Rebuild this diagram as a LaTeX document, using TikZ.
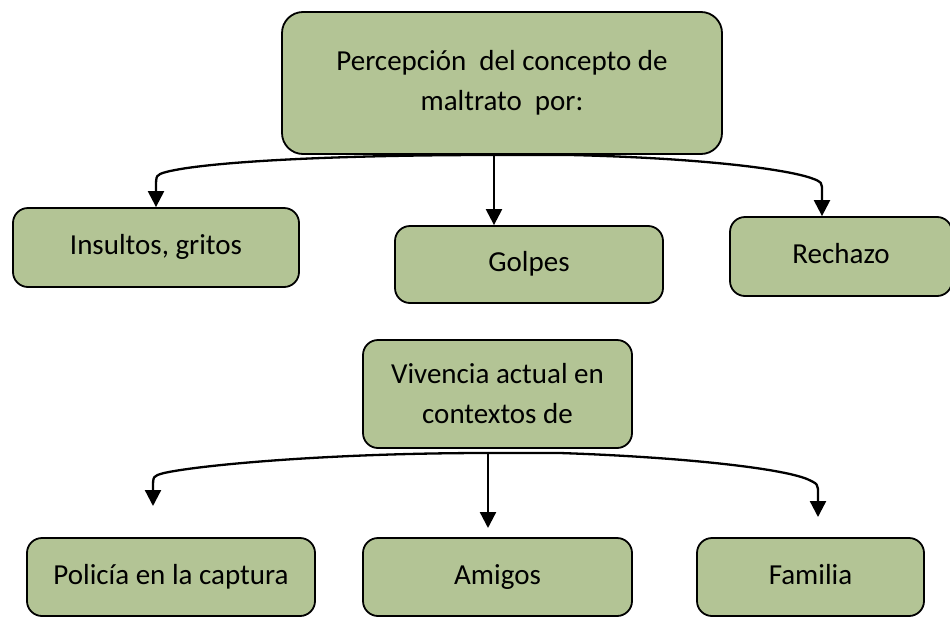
\documentclass[tikz,border=0pt]{standalone}
\usepackage{fontspec}
\setmainfont{Carlito}
\usetikzlibrary{arrows.meta,positioning}
\definecolor{Ink}{HTML}{000000}
\definecolor{Sage}{HTML}{B3C495}
\tikzset{
  concept/.style={
    rounded corners=15pt, draw=Ink, line width=1.8pt, fill=Sage,
    minimum height=78pt, align=center, inner sep=0pt,
    font=\fontsize{29}{40}\selectfont
  },
  word/.style={concept, text height=20pt, text depth=6pt},
  branch/.style={-{Triangle[length=16pt,width=16pt]}, line width=2.3pt, draw=Ink}
}

\begin{document}
\begin{tikzpicture}[x=1pt,y=-1pt]
    \useasboundingbox (0,0) rectangle (950,616);
    \node[concept,minimum width=440pt,minimum height=142pt,rounded corners=21pt] (perc) at (502,83) {Percepción\ \ del concepto de\\maltrato\ \ por:};
    \node[word,minimum width=286pt,minimum height=79pt] (insultos) at (156,247.5) {Insultos, gritos};
    \node[word,minimum width=268pt,minimum height=77pt] (golpes) at (529,264.5) {Golpes};
    \node[word,minimum width=222pt,minimum height=79pt] (rechazo) at (841,256.5) {Rechazo};
    \node[concept,minimum width=269pt,minimum height=108pt] (vivencia) at (497.5,394) {Vivencia actual en\\contextos de};
    \node[word,minimum width=288pt] (policia) at (171,577) {Policía en la captura};
    \node[word,minimum width=269pt] (amigos) at (497.5,577) {Amigos};
    \node[word,minimum width=227pt] (familia) at (810.5,577) {Familia};
    \coordinate (pj) at (494,155);
    \coordinate (vj) at (488,453);
    \coordinate (ptip) at (153,506);
    \coordinate (atip) at (488,528);
    \coordinate (ftip) at (818,517);
    \draw[branch] (pj) .. controls (330,155) and (205,162) .. (166,172) .. controls (156,175) .. (156,188) -- (insultos.north);
    \draw[branch] (pj) -- (pj |- golpes.north);
    \draw[branch] (pj) -- (570,155) .. controls (700,158) and (785,169) .. (811,178) .. controls (822,182) .. (822,192) -- ([xshift=-19pt]rechazo.north);
    \draw[branch] (vj) .. controls (330,453) and (200,465) .. (164,473) .. controls (153,476) .. (153,488) -- (ptip);
    \draw[branch] (vj) -- (atip);
    \draw[branch] (vj) -- (560,453) .. controls (680,457) and (780,468) .. (807,479) .. controls (818,484) .. (818,494) -- (ftip);
\end{tikzpicture}
\end{document}
